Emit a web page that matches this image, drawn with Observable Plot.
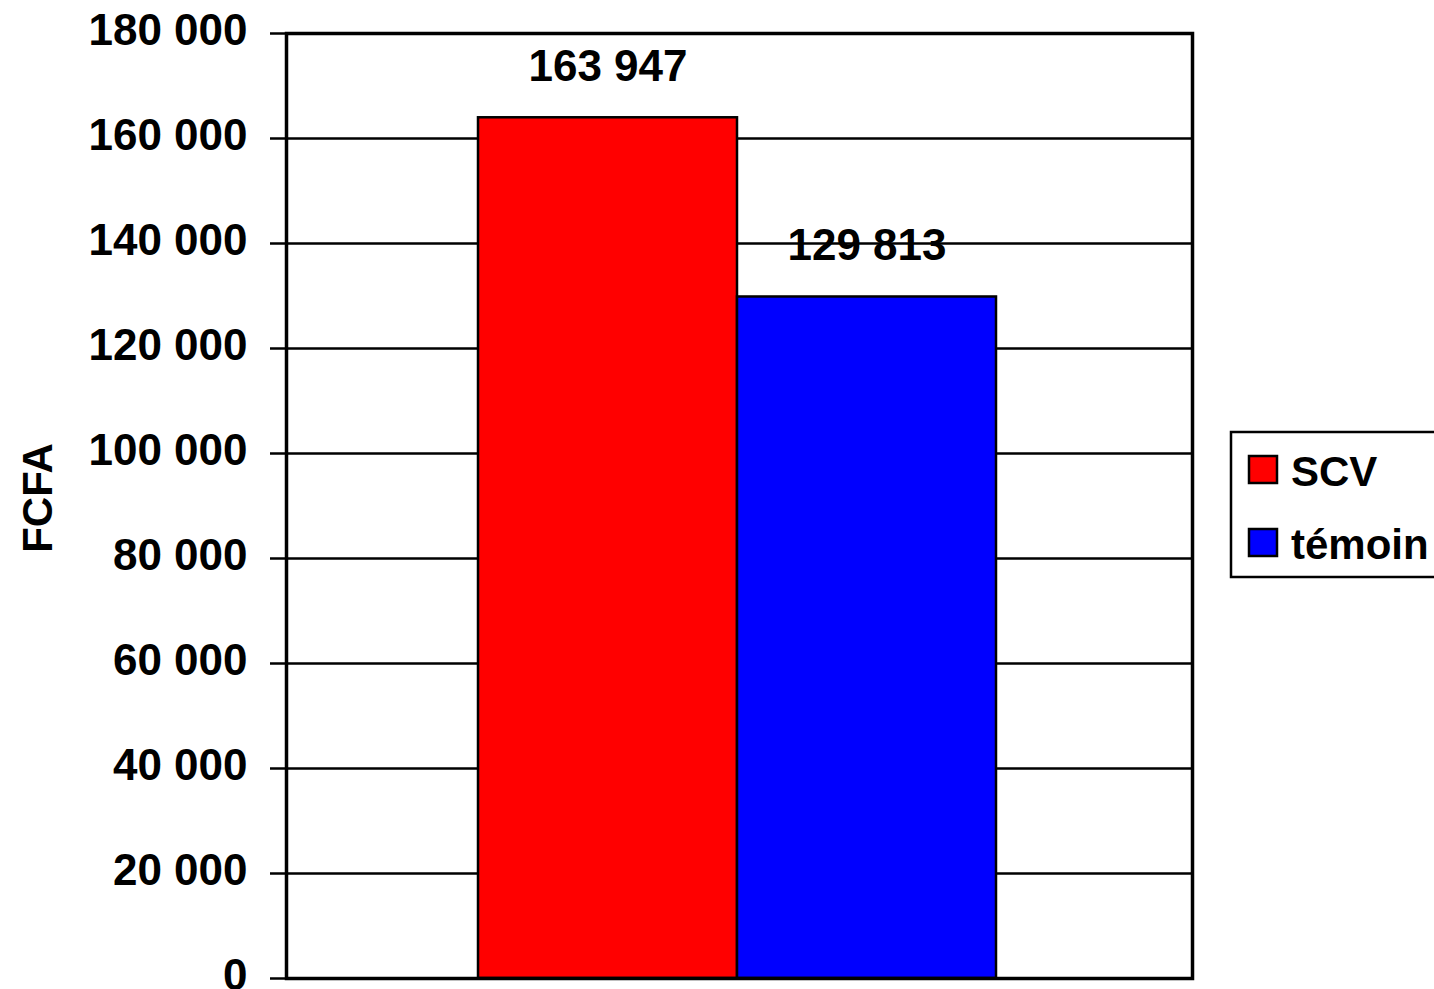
<!DOCTYPE html>
<html><head><meta charset="utf-8">
<script src="https://cdn.jsdelivr.net/npm/d3@7"></script>
<script src="https://cdn.jsdelivr.net/npm/@observablehq/plot@0.6"></script>
<style>body{margin:0;background:#fff;overflow:hidden}</style>
</head><body><div id="chart"></div>
<script>
const categories = ["SCV", "témoin"];
const values = [163947, 129813];
const colors = ["#ff0000", "#0000ff"];
const yTicks = [0, 20000, 40000, 60000, 80000, 100000, 120000, 140000, 160000, 180000];
const yLabel = "FCFA";

const data = categories.map((c, i) => ({cat: c, value: values[i]}));
const fmt = v => d3.format(",")(v).replace(/,/g, " ");
const FONT = "'Liberation Sans', Arial, Helvetica, sans-serif";

const plot = Plot.plot({
  width: 1434, height: 989,
  marginLeft: 286, marginRight: 242, marginTop: 33, marginBottom: 11,
  style: {fontFamily: FONT, fontSize: "44px", fontWeight: "bold", background: "#fff", color: "#000", overflow: "visible"},
  x: {domain: categories, padding: 0, insetLeft: 192, insetRight: 196, axis: null},
  y: {domain: [0, 180000], axis: null},
  color: {domain: categories, range: colors},
  marks: [
    Plot.ruleY(yTicks, {stroke: "#000", strokeWidth: 2.5}),
    Plot.axisY(yTicks, {tickSize: 16, tickFormat: () => "", strokeWidth: 2.5, label: null}),
    Plot.axisY(yTicks, {tickSize: 0, tickPadding: 39, tickFormat: fmt, dy: -3, label: null, fontSize: 44}),
    Plot.barY(data, {x: "cat", y: "value", fill: "cat", stroke: "#000", strokeWidth: 2.5}),
    Plot.text(data, {x: "cat", y: "value", text: d => fmt(d.value), lineAnchor: "bottom", dy: -37, fill: "#000", fontSize: 44}),
    Plot.frame({stroke: "#000", strokeWidth: 3.5}),
    Plot.text([yLabel], {frameAnchor: "left", text: d => d, rotate: -90, dx: -248, dy: -8, textAnchor: "middle", fontSize: 42, fill: "#000"})
  ]
});

const svg = d3.select(plot);
const lg = svg.append("g").attr("font-family", FONT).attr("font-weight", "bold").attr("font-size", 42).attr("text-anchor", "start");
lg.append("rect").attr("x", 1231).attr("y", 432).attr("width", 230).attr("height", 145)
  .attr("fill", "#fff").attr("stroke", "#000").attr("stroke-width", 2.5);
categories.forEach((c, i) => {
  const y = 456 + i * 73;
  lg.append("rect").attr("x", 1249).attr("y", y).attr("width", 28).attr("height", 27)
    .attr("fill", colors[i]).attr("stroke", "#000").attr("stroke-width", 2.5);
  lg.append("text").attr("x", 1291).attr("y", y + 30).attr("fill", "#000").attr("text-anchor", "start").text(c);
});

document.getElementById("chart").appendChild(plot);
</script>
</body></html>
